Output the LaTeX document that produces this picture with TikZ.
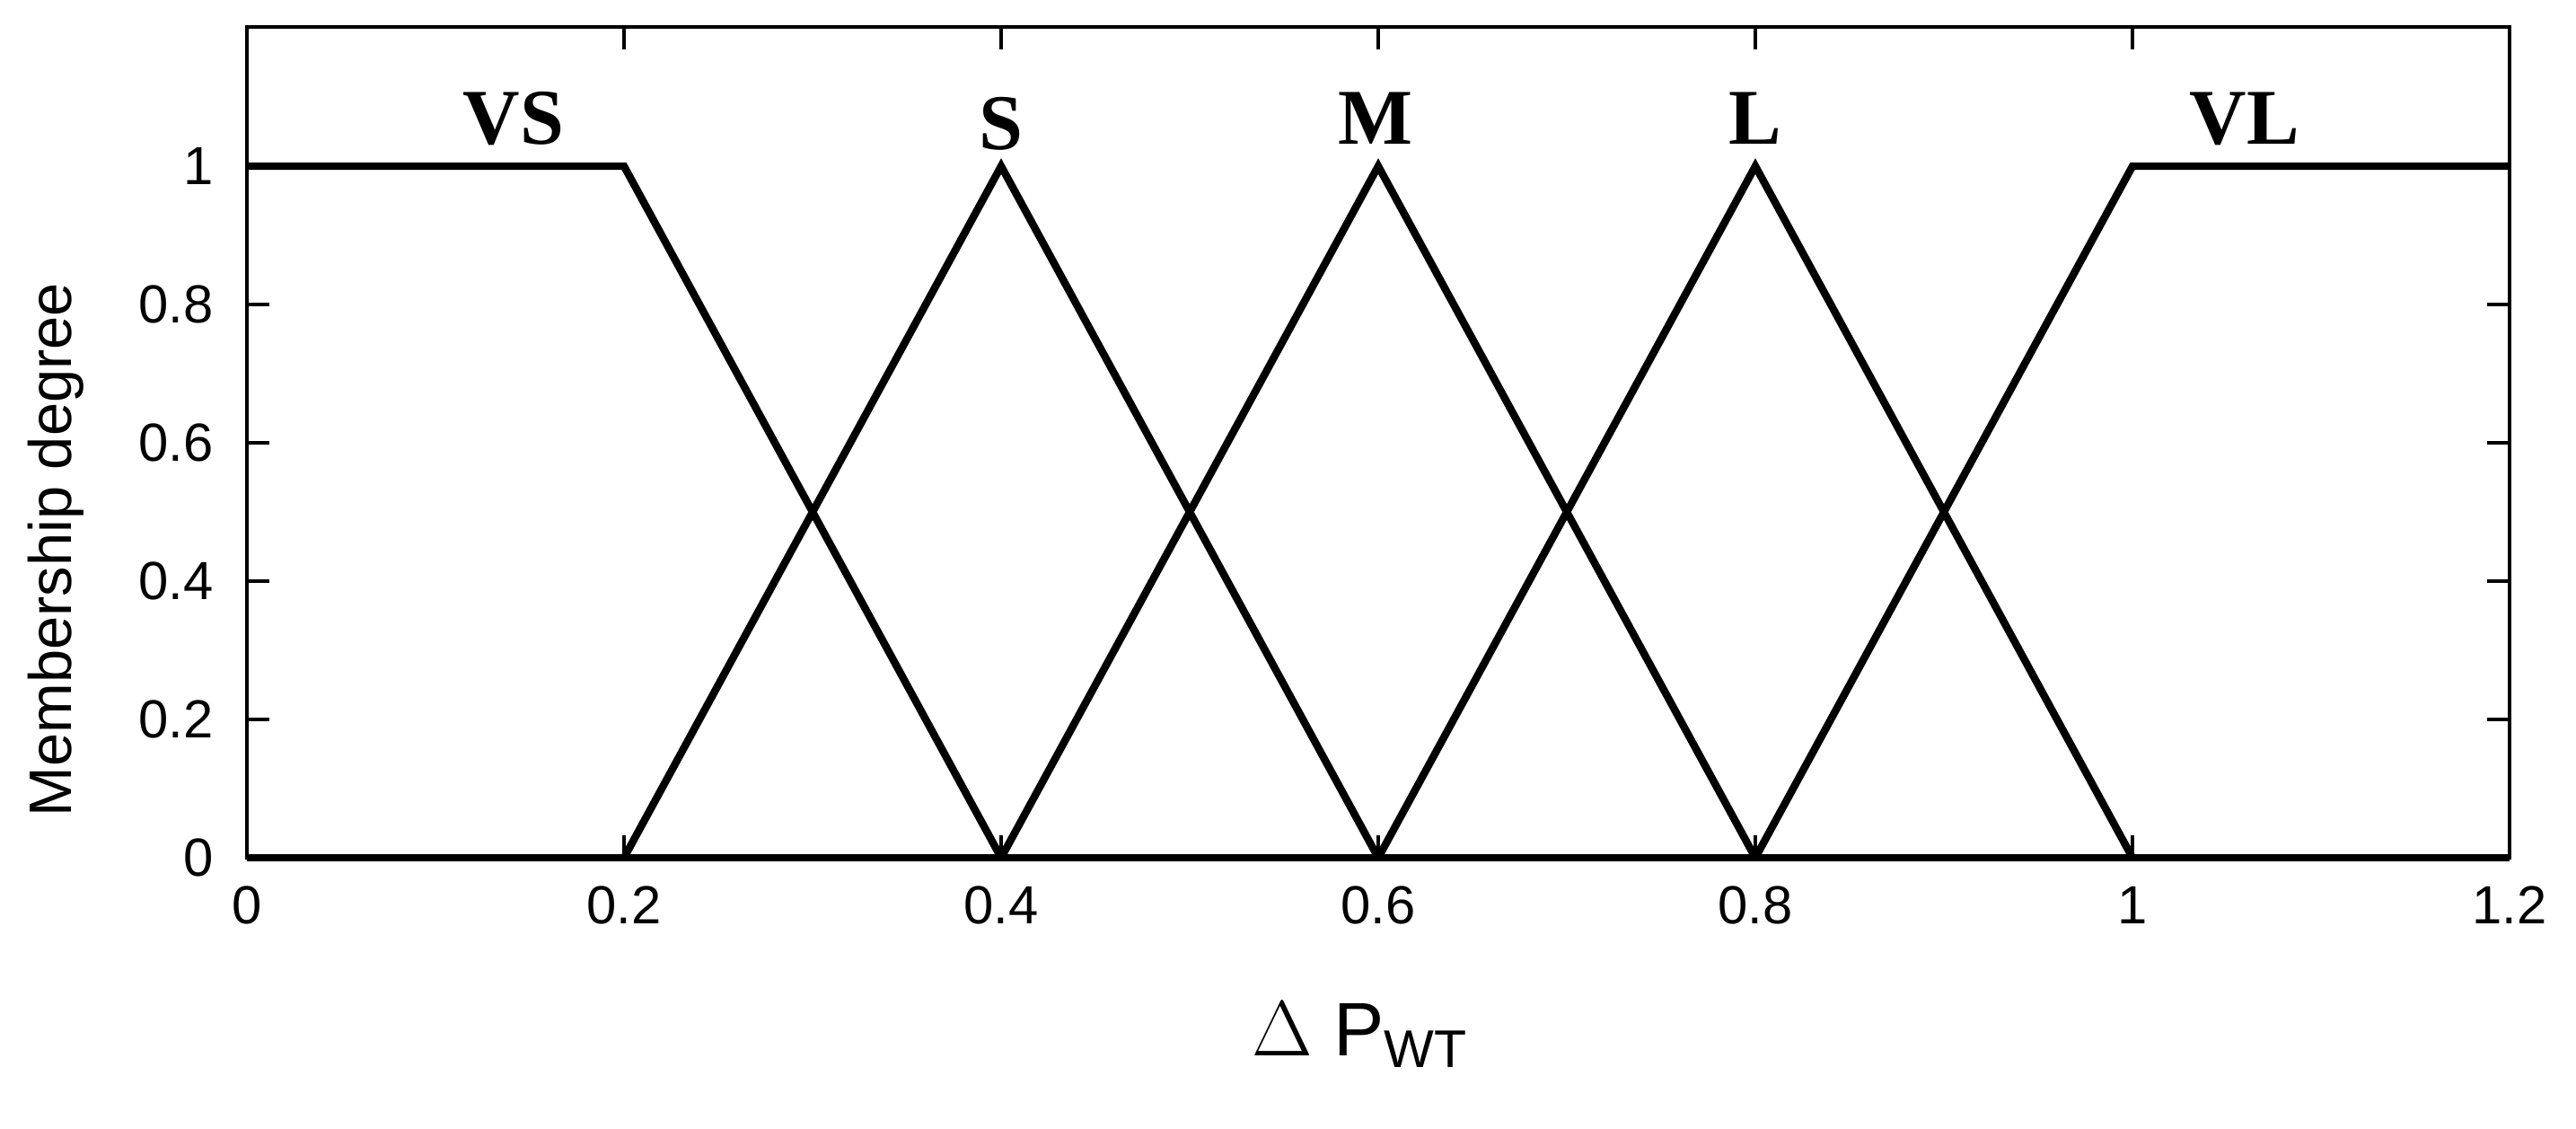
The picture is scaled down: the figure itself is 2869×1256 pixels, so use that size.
\documentclass[tikz,border=0pt]{standalone}
\usepackage{fontspec}
\setmainfont{Liberation Sans}
\newfontfamily\serifbf{Liberation Serif}
\begin{document}
\begin{tikzpicture}[x=0.01cm,y=-0.01cm,
  tick/.style={line width=1.3pt},
  mf/.style={line width=2.4pt,line join=miter},
  lab/.style={font=\fontsize{17}{20}\selectfont},
  mflab/.style={font=\serifbf\bfseries\fontsize{25}{28}\selectfont}]
\useasboundingbox (0,0) rectangle (2869,1256);
\fill[white] (0,0) rectangle (2869,1256);
% ticks
\foreach \i/\t in {0/0,1/0.2,2/0.4,3/0.6,4/0.8,5/1,6/1.2}{
  \pgfmathsetmacro\xx{275+420*\i}
  \draw[tick] (\xx,955) -- (\xx,930);
  \draw[tick] (\xx,30) -- (\xx,55);
  \node[lab] (xl\i) at (\xx,1008) {\t};
}
\foreach \i/\t in {0/0,1/0.2,2/0.4,3/0.6,4/0.8,5/1}{
  \pgfmathsetmacro\yy{955-154*\i}
  \draw[tick] (275,\yy) -- (300,\yy);
  \draw[tick] (2795,\yy) -- (2770,\yy);
  \node[lab,anchor=east] (yl\i) at (250,\yy) {\t};
}
\draw[tick] (275,30) rectangle (2795,955);
% membership functions
\draw[mf] (275,185) -- (695,185) -- (1115,955);
\draw[mf] (695,955) -- (1115,185) -- (1535,955);
\draw[mf] (1115,955) -- (1535,185) -- (1955,955);
\draw[mf] (1535,955) -- (1955,185) -- (2375,955);
\draw[mf] (1955,955) -- (2375,185) -- (2795,185);
\draw[mf] (275,955) -- (2795,955);
\node[mflab] (vs) at (572,132) {VS};
\node[mflab] (s) at (1115,138) {S};
\node[mflab] (m) at (1532,132) {M};
\node[mflab] (l) at (1955,132) {L};
\node[mflab] (vl) at (2500,132) {VL};
\node[font=\fontsize{19}{23}\selectfont,rotate=90] (ylab) at (62,612) {Membership degree};
\node[font=\fontsize{24}{28}\selectfont] (xlab) at (1515,1152) {$\Delta$ P\textsubscript{WT}};
\end{tikzpicture}
\end{document}
